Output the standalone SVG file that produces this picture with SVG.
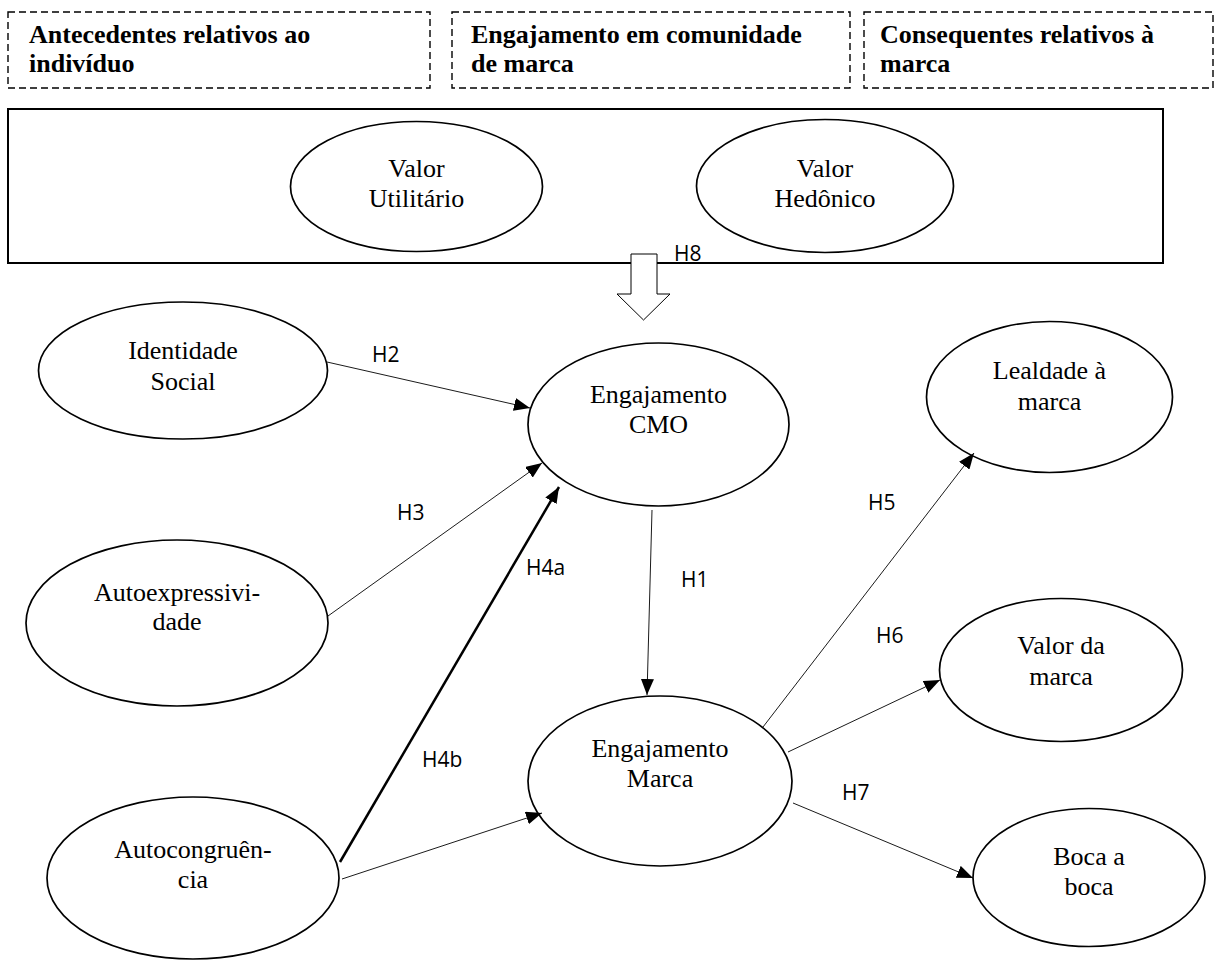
<svg xmlns="http://www.w3.org/2000/svg" width="1217" height="960" viewBox="0 0 1217 960">
  <style>
    .hdr { fill: none; stroke: #000; stroke-width: 1.4; stroke-dasharray: 7 4; }
    .hdr-t { font-family: "Liberation Serif", "Times New Roman", serif; font-size: 26px; font-weight: bold; fill: #000; }
    .frame { fill: none; stroke: #000; stroke-width: 2; }
    .node { fill: #fff; stroke: #000; stroke-width: 1.7; }
    .nt { font-family: "Liberation Serif", "Times New Roman", serif; font-size: 26px; fill: #000; text-anchor: middle; }
    .edge { stroke: #000; stroke-width: 0.9; fill: none; marker-end: url(#tri); }
    .edge.bold { stroke-width: 2.5; }
    .lbl { font-family: "Open Sans", "Liberation Sans", sans-serif; font-size: 21px; fill: #000; }
  </style>
  <defs>
    <marker id="tri" markerUnits="userSpaceOnUse" markerWidth="16" markerHeight="13" refX="16" refY="6.5" orient="auto">
      <path d="M0,0 L16,6.5 L0,13 Z" fill="#000"/>
    </marker>
  </defs>

  <rect width="1217" height="960" fill="#fff"/>

  <!-- column headings -->
  <g id="heading-antecedentes">
    <rect class="hdr" x="8" y="12" width="422" height="76"/>
    <text class="hdr-t" x="29" y="43">Antecedentes relativos ao</text>
    <text class="hdr-t" x="29" y="72">indivíduo</text>
  </g>
  <g id="heading-engajamento">
    <rect class="hdr" x="452" y="12" width="398" height="76"/>
    <text class="hdr-t" x="471" y="43">Engajamento em comunidade</text>
    <text class="hdr-t" x="471" y="72">de marca</text>
  </g>
  <g id="heading-consequentes">
    <rect class="hdr" x="864" y="12" width="349" height="76"/>
    <text class="hdr-t" x="880" y="43">Consequentes relativos à</text>
    <text class="hdr-t" x="880" y="72">marca</text>
  </g>

  <!-- value frame -->
  <g id="value-frame">
    <rect class="frame" x="8" y="109" width="1155" height="154"/>
  </g>
  <g id="valor-utilitario">
    <ellipse class="node" cx="416.5" cy="186.5" rx="126" ry="65"/>
    <text class="nt" x="416.5" y="177">Valor</text>
    <text class="nt" x="416.5" y="207">Utilitário</text>
  </g>
  <g id="valor-hedonico">
    <ellipse class="node" cx="825" cy="186" rx="128.5" ry="66.5"/>
    <text class="nt" x="825" y="177">Valor</text>
    <text class="nt" x="825" y="207">Hedônico</text>
  </g>

  <!-- constructs -->
  <g id="identidade-social">
    <ellipse class="node" cx="183" cy="370.5" rx="144.5" ry="68.5"/>
    <text class="nt" x="183" y="359">Identidade</text>
    <text class="nt" x="183" y="390">Social</text>
  </g>
  <g id="engajamento-cmo">
    <ellipse class="node" cx="658.5" cy="424.5" rx="130.5" ry="81.5"/>
    <text class="nt" x="658.5" y="403">Engajamento</text>
    <text class="nt" x="658.5" y="433">CMO</text>
  </g>
  <g id="lealdade-marca">
    <ellipse class="node" cx="1049.5" cy="397" rx="123" ry="75.5"/>
    <text class="nt" x="1049.5" y="379">Lealdade à</text>
    <text class="nt" x="1049.5" y="410">marca</text>
  </g>
  <g id="autoexpressividade">
    <ellipse class="node" cx="177" cy="623" rx="151" ry="83"/>
    <text class="nt" x="177" y="601">Autoexpressivi-</text>
    <text class="nt" x="177" y="630">dade</text>
  </g>
  <g id="valor-marca">
    <ellipse class="node" cx="1061" cy="670" rx="121.5" ry="71.5"/>
    <text class="nt" x="1061" y="654">Valor da</text>
    <text class="nt" x="1061" y="685">marca</text>
  </g>
  <g id="engajamento-marca">
    <ellipse class="node" cx="660" cy="781" rx="132" ry="85"/>
    <text class="nt" x="660" y="757">Engajamento</text>
    <text class="nt" x="660" y="787">Marca</text>
  </g>
  <g id="autocongruencia">
    <ellipse class="node" cx="193" cy="878" rx="146" ry="81"/>
    <text class="nt" x="193" y="858">Autocongruên-</text>
    <text class="nt" x="193" y="888">cia</text>
  </g>
  <g id="boca-a-boca">
    <ellipse class="node" cx="1089" cy="877.5" rx="116" ry="69"/>
    <text class="nt" x="1089" y="865">Boca a</text>
    <text class="nt" x="1089" y="895">boca</text>
  </g>

  <!-- connectors -->
  <g id="connectors">
    <polygon points="631,254 657,254 657,294 670,294 643.5,320 617,294 631,294" fill="#fff" stroke="#000" stroke-width="1"/>
    <line class="edge" x1="327" y1="362" x2="530" y2="408"/>
    <line class="edge" x1="328" y1="616" x2="542" y2="463"/>
    <line class="edge bold" x1="340" y1="862" x2="559" y2="487"/>
    <line class="edge" x1="342" y1="879" x2="542" y2="813"/>
    <line class="edge" x1="652" y1="510" x2="647" y2="695"/>
    <line class="edge" x1="763" y1="727" x2="974" y2="453"/>
    <line class="edge" x1="788" y1="752" x2="940" y2="680"/>
    <line class="edge" x1="793" y1="803" x2="973" y2="878"/>
  </g>

  <!-- hypothesis labels -->
  <g id="labels">
    <text class="lbl" x="674" y="261">H8</text>
    <text class="lbl" x="372" y="362">H2</text>
    <text class="lbl" x="397" y="520">H3</text>
    <text class="lbl" x="526" y="575">H4a</text>
    <text class="lbl" x="681" y="587">H1</text>
    <text class="lbl" x="868" y="510">H5</text>
    <text class="lbl" x="876" y="643">H6</text>
    <text class="lbl" x="422" y="767">H4b</text>
    <text class="lbl" x="842" y="800">H7</text>
  </g>
</svg>
